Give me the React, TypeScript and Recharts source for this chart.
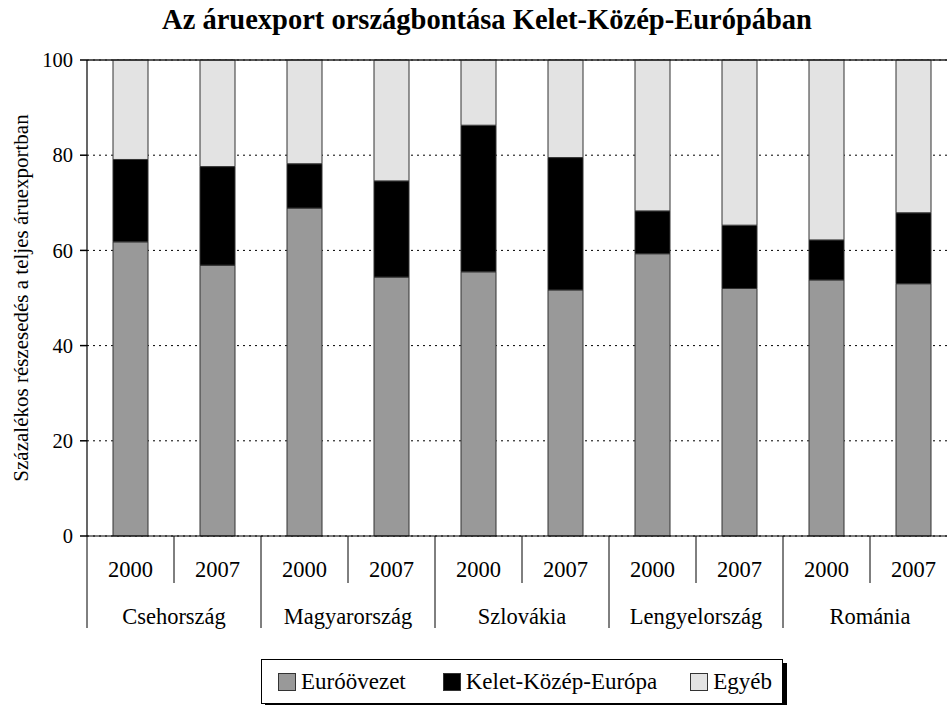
import React from "react";
import { BarChart, Bar, XAxis, YAxis, CartesianGrid, ReferenceLine } from "recharts";

const countries = ["Csehország", "Magyarország", "Szlovákia", "Lengyelország", "Románia"];
const years = ["2000", "2007"];
const euroZone = [61.8, 56.9, 68.9, 54.4, 55.5, 51.7, 59.3, 52.0, 53.8, 53.0];
const centralEastEurope = [17.3, 20.7, 9.3, 20.2, 30.8, 27.8, 9.0, 13.3, 8.4, 14.9];
const otherShare = [20.9, 22.4, 21.8, 25.4, 13.7, 20.5, 31.7, 34.7, 37.8, 32.1];
const yTicks = [0, 20, 40, 60, 80, 100];

const seriesNames = ["Euróövezet", "Kelet-Közép-Európa", "Egyéb"];
const seriesColors = ["#999999", "#000000", "#e3e3e3"];

const data = euroZone.map((v, i) => ({
  key: `${countries[Math.floor(i / 2)]}-${years[i % 2]}`,
  country: countries[Math.floor(i / 2)],
  year: years[i % 2],
  euro: v,
  kke: centralEastEurope[i],
  other: otherShare[i],
}));

const FONT = "'Liberation Serif', 'Times New Roman', serif";

const XTick = (props: any) => {
  const { x, y, payload, index } = props;
  const half = payload && payload.offset ? payload.offset : 43.5;
  const row = data.find((d) => d.key === payload.value) || data[index];
  const i = data.indexOf(row);
  const left = x - half;
  const isFirst = i % 2 === 0;
  return (
    <g>
      <line
        x1={left}
        x2={left}
        y1={y}
        y2={y + (isFirst ? 92 : 47)}
        stroke="#000"
        strokeWidth={1}
      />
      <text x={x} y={y + 41} textAnchor="middle" fontSize={22.5} fontFamily={FONT} fill="#000">
        {row.year}
      </text>
      {!isFirst && (
        <text x={left} y={y + 88} textAnchor="middle" fontSize={22.5} fontFamily={FONT} fill="#000">
          {row.country}
        </text>
      )}
    </g>
  );
};

const YLabel = (props: any) => {
  const vb = props.viewBox || { x: 0, y: 60, width: 87, height: 476 };
  const cx = vb.x + 28;
  const cy = vb.y + vb.height / 2;
  return (
    <text
      x={cx}
      y={cy}
      transform={`rotate(-90 ${cx} ${cy})`}
      textAnchor="middle"
      fontSize={21}
      fontFamily={FONT}
      fill="#000"
    >
      Százalékos részesedés a teljes áruexportban
    </text>
  );
};

export default function App() {
  return (
    <div
      style={{
        position: "absolute",
        left: 0,
        top: 0,
        width: 947,
        height: 705,
        overflow: "hidden",
        background: "#fff",
        fontFamily: FONT,
      }}
    >
      <svg width={947} height={40} style={{ position: "absolute", left: 0, top: 0 }}>
        <text x={487} y={29} textAnchor="middle" fontSize={28.5} fontWeight="bold" fontFamily={FONT} fill="#000">
          Az áruexport országbontása Kelet-Közép-Európában
        </text>
      </svg>
      <div style={{ position: "absolute", left: 0, top: 0 }}>
        <BarChart
          width={957}
          height={705}
          data={data}
          margin={{ top: 60, right: 0, bottom: 77, left: 0 }}
          barSize={35}
        >
          <CartesianGrid vertical={false} stroke="#000" strokeDasharray="2 4" />
          <XAxis
            dataKey="key"
            height={92}
            tickLine={false}
            tickSize={0}
            tickMargin={0}
            interval={0}
            axisLine={{ stroke: "#000", strokeWidth: 1.2 }}
            tick={<XTick />}
          />
          <YAxis
            width={87}
            domain={[0, 100]}
            ticks={yTicks}
            interval={0}
            tickSize={7}
            tickMargin={7}
            axisLine={{ stroke: "#000", strokeWidth: 1.2 }}
            tickLine={{ stroke: "#000", strokeWidth: 1.5 }}
            tick={{ fontSize: 20.5, fontFamily: FONT, fill: "#000" }}
            label={<YLabel />}
          />
          <ReferenceLine y={100} stroke="#222" strokeWidth={1.5} />
          <Bar dataKey="euro" stackId="a" fill={seriesColors[0]} stroke="#333" strokeWidth={1} isAnimationActive={false} />
          <Bar dataKey="kke" stackId="a" fill={seriesColors[1]} stroke="#333" strokeWidth={1} isAnimationActive={false} />
          <Bar dataKey="other" stackId="a" fill={seriesColors[2]} stroke="#333" strokeWidth={1} isAnimationActive={false} />
        </BarChart>
      </div>
      <div
        style={{
          position: "absolute",
          left: 261,
          top: 659,
          width: 522,
          height: 45,
          border: "1px solid #000",
          boxShadow: "4px 4px 0 #000",
          display: "flex",
          alignItems: "center",
          paddingLeft: 16,
          boxSizing: "border-box",
          background: "#fff",
        }}
      >
        {seriesNames.map((name, i) => (
          <div key={name} style={{ display: "flex", alignItems: "center", marginRight: i === 0 ? 37 : i === 1 ? 33 : 0 }}>
            <span
              style={{
                display: "inline-block",
                width: 16,
                height: 16,
                background: seriesColors[i],
                border: "1px solid #333",
                marginRight: 5,
              }}
            />
            <span style={{ fontSize: 23, lineHeight: "26px", fontFamily: FONT, color: "#000" }}>{name}</span>
          </div>
        ))}
      </div>
    </div>
  );
}
